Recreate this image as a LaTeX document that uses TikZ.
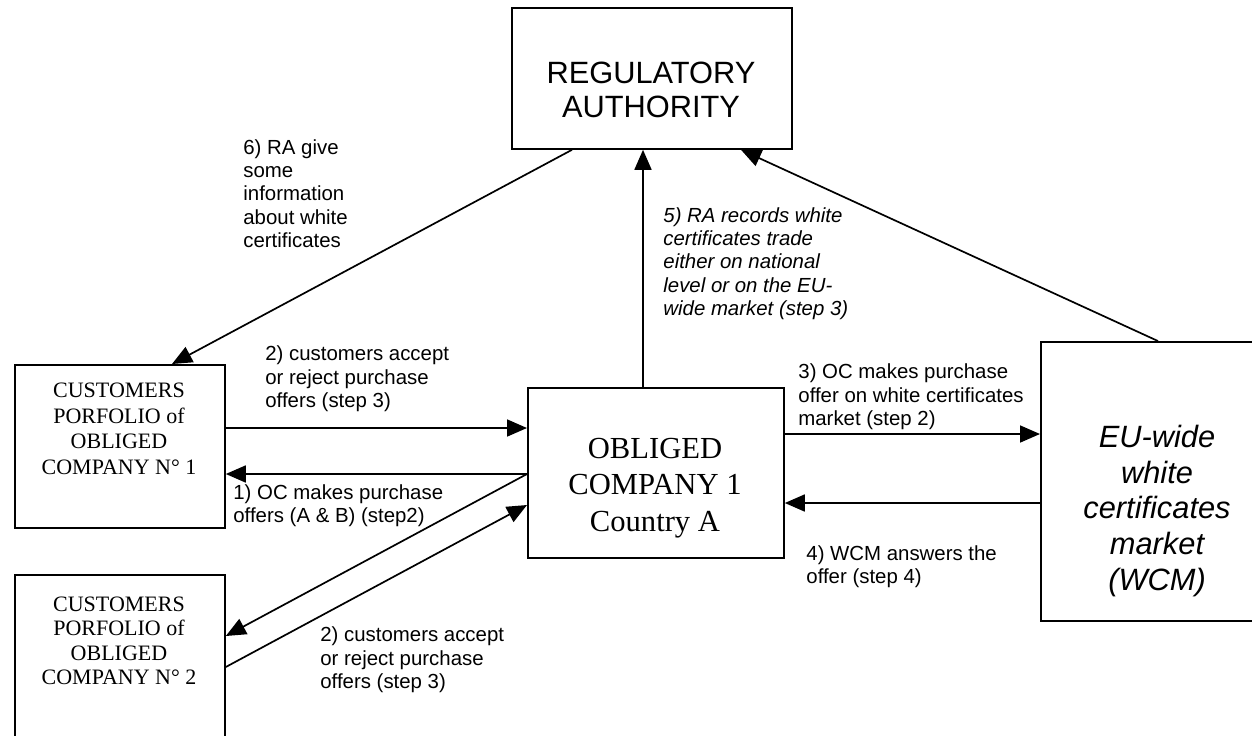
\documentclass[tikz,border=0pt]{standalone}
\usepackage{fontspec}
\setmainfont{Liberation Serif}
\setsansfont{Liberation Sans}
\usetikzlibrary{arrows.meta,calc}
\begin{document}
\begin{tikzpicture}[x=0.5pt,y=-0.5pt,
  box/.style={draw,line width=0.9pt,inner sep=0pt,anchor=north west},
  txt/.style={inner sep=0pt,align=center},
  lbl/.style={font=\sffamily\fontsize{10.2}{11.65}\selectfont,align=left,anchor=west,inner sep=0pt},
  arr/.style={line width=0.85pt,-{Triangle[length=10pt,width=8.5pt]}}]
\useasboundingbox (0,0) rectangle (1252,735);
\clip (0,0) rectangle (1252,735);
\fill[white] (0,0) rectangle (1252,735);

% boxes
\node[box,minimum width=140pt,minimum height=70.5pt] (RA) at (511,7) {};
\node[box,minimum width=128pt,minimum height=85pt] (OC) at (527,387) {};
\node[box,minimum width=105pt,minimum height=81.5pt] (B1) at (14,364) {};
\node[box,minimum width=105pt,minimum height=100pt] (B2) at (14,574) {};
\node[box,minimum width=117pt,minimum height=139.5pt] (WCM) at (1040,341) {};

% box texts
\node[txt,font=\sffamily\fontsize{15.4}{17}\selectfont] (RAt) at (651,90) {REGULATORY\\AUTHORITY};
\node[txt,font=\rmfamily\fontsize{15.3}{18.25}\selectfont] (OCt) at (655,488) {OBLIGED\\COMPANY 1\\Country A};
\node[txt,font=\rmfamily\fontsize{11}{12.8}\selectfont] (B1t) at (119,429) {CUSTOMERS\\PORFOLIO of\\OBLIGED\\COMPANY N° 1};
\node[txt,font=\rmfamily\fontsize{11}{12.2}\selectfont] (B2t) at (119,641) {CUSTOMERS\\PORFOLIO of\\OBLIGED\\COMPANY N° 2};
\node[txt,font=\sffamily\itshape\fontsize{15.4}{17.9}\selectfont] (WCMt) at (1157,511) {EU-wide\\white\\certificates\\market\\(WCM)};

% connectors
\draw[arr] ($(RA.south west)+(61,0)$) -- ($(B1.north west)+(158,0)$);
\draw[arr] ($(OC.north west)+(116,0)$) -- ($(RA.south west)+(132,0)$);
\draw[arr] (WCM.north) -- ($(RA.south west)+(230,0)$);
\draw[arr] ($(B1.north east)+(0,64)$) -- ($(OC.north west)+(0,41)$);
\draw[arr] ($(OC.north west)+(0,87)$) -- ($(B1.north east)+(0,110)$);
\draw[arr] ($(OC.north west)+(0,87)$) -- ($(B2.north east)+(0,62)$);
\draw[arr] ($(B2.north east)+(0,93)$) -- ($(OC.north west)+(0,118)$);
\draw[arr] ($(OC.north east)+(0,47)$) -- ($(WCM.north west)+(0,93)$);
\draw[arr] ($(WCM.north west)+(0,162)$) -- ($(OC.north east)+(0,116)$);

% labels
\node[lbl] (L6) at (243,193.5) {6) RA give\\some\\information\\about white\\certificates};
\node[lbl,font=\sffamily\itshape\fontsize{10.2}{11.65}\selectfont] (L5) at (663,263.5) {5) RA records white\\certificates trade\\either on national\\level or on the EU-\\wide market (step 3)};
\node[lbl] (L2a) at (265,379) {2) customers accept\\or reject purchase\\offers (step 3)};
\node[lbl] (L1) at (233,506) {1) OC makes purchase\\offers (A \& B) (step2)};
\node[lbl] (L2b) at (320,660) {2) customers accept\\or reject purchase\\offers (step 3)};
\node[lbl] (L3) at (798,397) {3) OC makes purchase\\offer on white certificates\\market (step 2)};
\node[lbl] (L4) at (806,566.5) {4) WCM answers the\\offer (step 4)};
\end{tikzpicture}
\end{document}
